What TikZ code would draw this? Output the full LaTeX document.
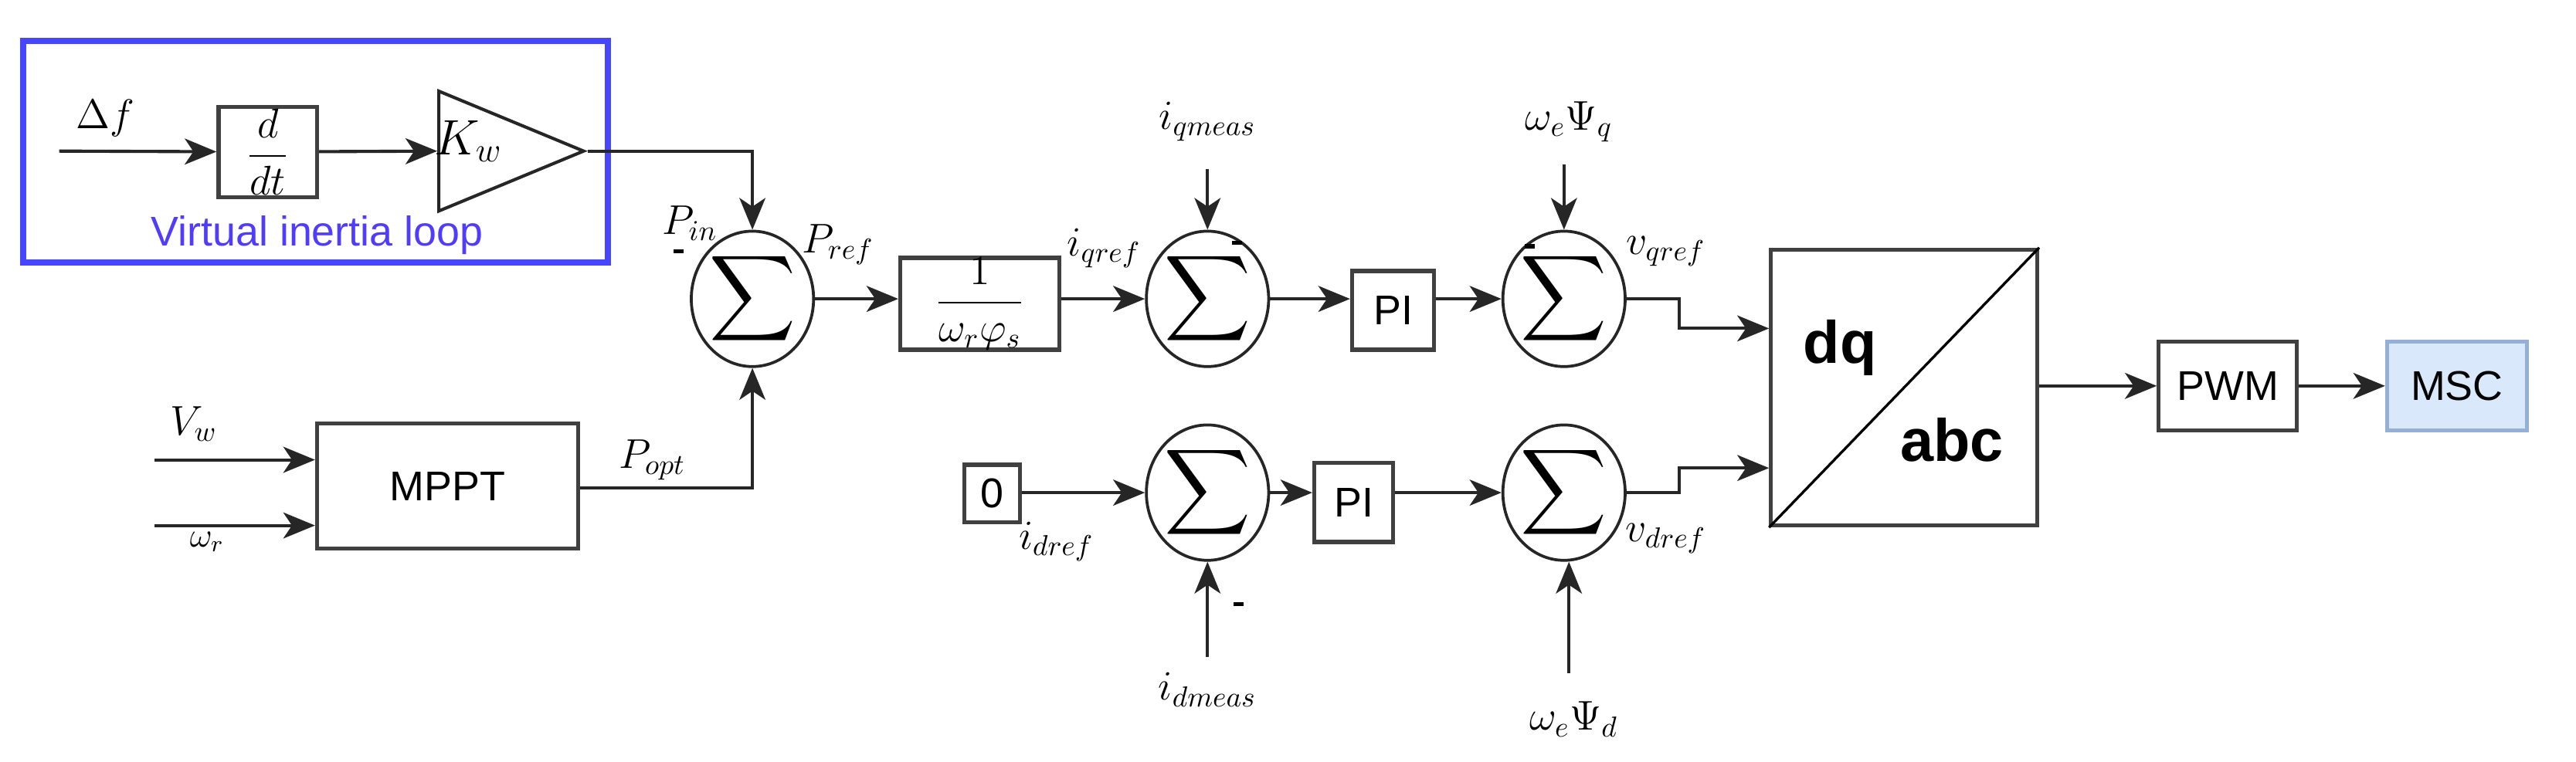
\documentclass[tikz,border=0pt]{standalone}
\usepackage{amsmath}
\usepackage{fontspec}
\setmainfont{Liberation Sans}
\usetikzlibrary{arrows.meta,shapes.geometric}
\begin{document}
\begin{tikzpicture}[x=0.02cm,y=-0.02cm,
  line width=1.1pt,
  ln/.style={draw=black!85},
  ar/.style={ln,-{Stealth[length=11pt,width=9pt,inset=3pt]}},
  blk/.style={draw=black!75,line width=1.4pt,fill=white,inner sep=0pt,font=\Large},
  sum/.style={ellipse,draw=black!85,line width=1pt,minimum width=1.12cm,minimum height=1.2cm,inner sep=0pt},
  lab/.style={font=\Large},
  mn/.style={fill=black,minimum width=0.12cm,minimum height=0.05cm,inner sep=0pt}]
\useasboundingbox (0,0) rectangle (1568,464);
% virtual inertia loop
\node[draw={rgb,255:red,70;green,70;blue,255},line width=2.2pt,minimum width=7.12cm,minimum height=2.7cm] (vil) at (192,92.5) {};
\node[text={rgb,255:red,80;green,60;blue,255},font=\Large] (viltxt) at (193,143) {Virtual inertia loop};
\coordinate (dfin) at (36,92);
\node[lab] (dflab) at (64,72) {$\Delta f$};
\node[blk,minimum width=1.2cm,minimum height=1.1cm] (ddt) at (163,92.5) {$\dfrac{d}{dt}$};
\node[isosceles triangle,draw=black!85,line width=1.1pt,minimum height=1.54cm,minimum width=1.46cm,inner sep=0pt] (kw) at (291.5,92) {};
\node[font=\LARGE] (kwlab) at (285,86) {$K_w$};
\draw[ar] (dfin) -- (ddt);
\draw[ar] (ddt) -- (kw.west);
% sum 1
\node[sum] (s1) at (458,182) {\huge$\displaystyle\sum$};
\draw[ar] (kw.apex) -| (s1.north);
\node[lab] (pin) at (420,136) {$P_{in}$};
\node[mn] (m1) at (413,153) {};
\node[lab] (pref) at (510,149) {$P_{ref}$};
% MPPT
\node[blk,minimum width=3.18cm,minimum height=1.52cm] (mppt) at (272.5,296) {MPPT};
\coordinate (vwin) at (94,280);
\coordinate (wrin) at (94,320);
\draw[ar] (vwin) -- (vwin -| mppt.west);
\draw[ar] (wrin) -- (wrin -| mppt.west);
\node[lab] (vw) at (118,258) {$V_w$};
\node[font=\large] (wr) at (126,330) {$\omega_r$};
\node[lab] (popt) at (397,280) {$P_{opt}$};
\draw[ar] (mppt.east |- 0,297) -| (s1.south);
% gain block
\node[blk,minimum width=1.94cm,minimum height=1.12cm] (g) at (596.5,185) {$\dfrac{1}{\omega_r\varphi_s}$};
\draw[ar] (s1) -- (s1 -| g.west);
% q row
\node[sum] (s2) at (735,182) {\huge$\displaystyle\sum$};
\draw[ar] (g.east |- s2) -- (s2);
\node[lab] (iqref) at (672,151) {$i_{qref}$};
\coordinate (iqm) at (735,103);
\node[lab] (iqmlab) at (735,74) {$i_{qmeas}$};
\draw[ar] (iqm) -- (s2.north);
\node[mn] (m2) at (753,148) {};
\node[blk,minimum width=1cm,minimum height=0.96cm] (pi1) at (848,189) {PI};
\draw[ar] (s2) -- (s2 -| pi1.west);
\node[sum] (s3) at (952,182) {\huge$\displaystyle\sum$};
\draw[ar] (pi1.east |- s3) -- (s3);
\coordinate (wpq) at (952,100);
\node[lab] (wpqlab) at (955,74) {$\omega_e\Psi_q$};
\draw[ar] (wpq) -- (s3.north);
\node[mn] (m3) at (931,150) {};
\node[lab] (vqref) at (1014,153) {$v_{qref}$};
% d row
\node[blk,minimum width=0.68cm,minimum height=0.7cm] (zero) at (604,300.5) {0};
\node[sum] (s4) at (735,300) {\huge$\displaystyle\sum$};
\draw[ar] (zero.east |- s4) -- (s4);
\node[lab] (idref) at (643,330) {$i_{dref}$};
\coordinate (idm) at (735,400);
\node[lab] (idmlab) at (735,420) {$i_{dmeas}$};
\draw[ar] (idm) -- (s4.south);
\node[mn] (m4) at (754,368) {};
\node[blk,minimum width=0.96cm,minimum height=0.96cm] (pi2) at (824,306) {PI};
\draw[ar] (s4) -- (s4 -| pi2.west);
\node[sum] (s5) at (952,300) {\huge$\displaystyle\sum$};
\draw[ar] (pi2.east |- s5) -- (s5);
\coordinate (wpd) at (955,410);
\node[lab] (wpdlab) at (958,438) {$\omega_e\Psi_d$};
\draw[ar] (wpd) -- (wpd |- s5.south);
\node[lab] (vdref) at (1014,328) {$v_{dref}$};
% dq/abc
\node[blk,minimum width=3.24cm,minimum height=3.36cm] (dq) at (1159,236) {};
\draw[line width=0.9pt] (dq.south west) -- (dq.north east);
\node[font=\huge\bfseries] (dqt) at (1120,212) {dq};
\node[font=\huge\bfseries] (abct) at (1188,268) {abc};
\coordinate (qa) at (1022,182);
\coordinate (qb) at (1022,200);
\coordinate (da) at (1022,300);
\coordinate (db) at (1022,285);
\draw[ar] (s3.east) -- (qa) -- (qb) -- (qb -| dq.west);
\draw[ar] (s5.east) -- (da) -- (db) -- (db -| dq.west);
% PWM, MSC
\node[blk,minimum width=1.68cm,minimum height=1.08cm] (pwm) at (1356,235) {PWM};
\node[draw={rgb,255:red,150;green,175;blue,215},fill={rgb,255:red,218;green,232;blue,252},line width=1.4pt,minimum width=1.7cm,minimum height=1.08cm,font=\Large] (msc) at (1495.5,235) {MSC};
\draw[ar] (dq.east |- pwm) -- (pwm);
\draw[ar] (pwm) -- (msc);
\end{tikzpicture}
\end{document}
